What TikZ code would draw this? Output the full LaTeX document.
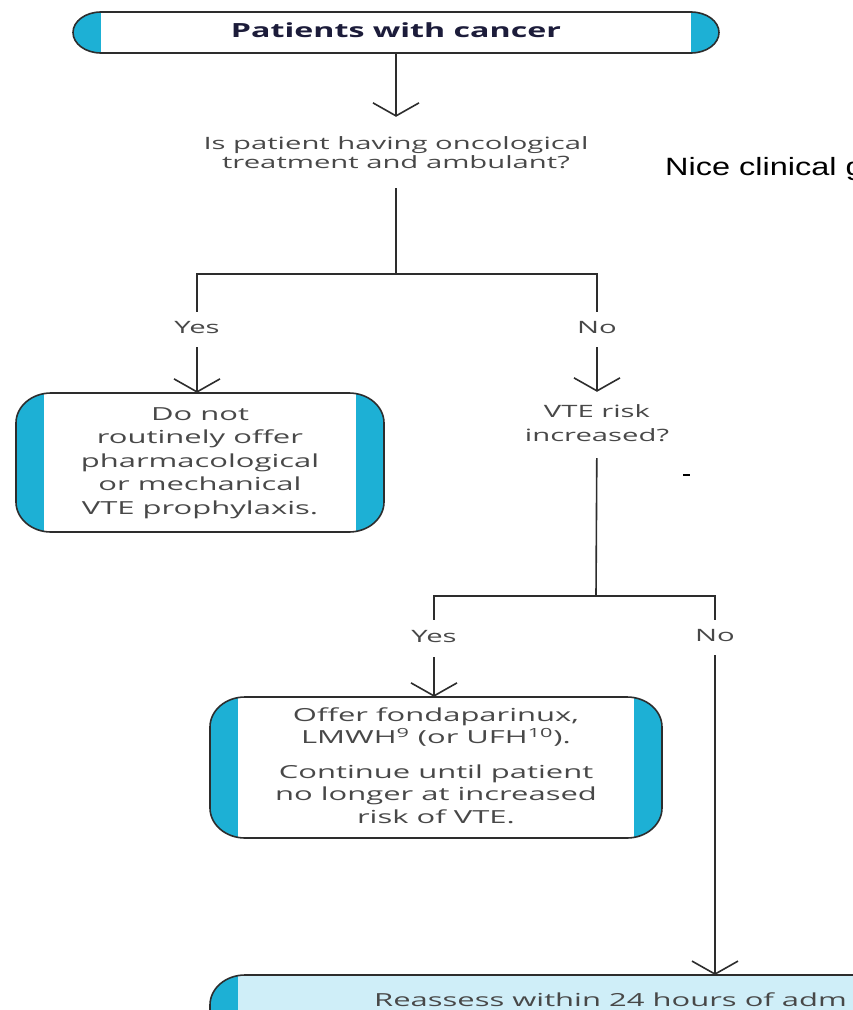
\documentclass[tikz,border=0pt]{standalone}
\usepackage{fontspec}
\setmainfont{Open Sans}
\newfontfamily\arialfont{Liberation Sans}
\usetikzlibrary{arrows.meta}
\definecolor{bandcyan}{RGB}{29,176,213}
\definecolor{lightfill}{RGB}{207,238,248}
\definecolor{linegray}{RGB}{45,45,45}
\definecolor{textgray}{RGB}{72,72,72}
\definecolor{titlenavy}{RGB}{28,28,58}
\newcommand\wide[2][1.72]{\scalebox{#1}[1]{\begin{tabular}{@{}c@{}}#2\end{tabular}}}
% rounded box outline with elliptic corners: x1, ytop, x2, ybot, rx, ry
\newcommand\capshapepath[6]{(#1+#5,#2) -- (#3-#5,#2)
  arc[start angle=90,end angle=0,x radius=#5,y radius=#6] -- (#3,#4+#6)
  arc[start angle=0,end angle=-90,x radius=#5,y radius=#6] -- (#1+#5,#4)
  arc[start angle=-90,end angle=-180,x radius=#5,y radius=#6] -- (#1,#2-#6)
  arc[start angle=180,end angle=90,x radius=#5,y radius=#6] -- cycle}
% box with cyan side bands: x1, ytop, x2, ybot, rx, ry, band, fill colour
\newcommand\bandbox[8]{%
  \begin{scope}
    \clip \capshapepath{#1}{#2}{#3}{#4}{#5}{#6};
    \fill[#8] (#1,#2) rectangle (#3,#4);
    \fill[bandcyan] (#1,#2) rectangle (#1+#7,#4);
    \fill[bandcyan] (#3-#7,#2) rectangle (#3,#4);
  \end{scope}
  \draw[outline] \capshapepath{#1}{#2}{#3}{#4}{#5}{#6};}
\tikzset{
  outline/.style={draw=linegray, line width=1.6pt},
  ln/.style={draw=linegray, line width=1.6pt},
  arr/.style={ln, -{Straight Barb[length=13pt,width=46pt,line width=1.6pt]}},
  qtext/.style={inner sep=0pt, text=textgray, font=\fontsize{17}{19}\selectfont},
  q2text/.style={qtext, font=\fontsize{17}{24}\selectfont},
  lbl/.style={inner sep=0pt, text=textgray, font=\fontsize{17}{19}\selectfont},
  boxtext/.style={inner sep=0pt, text=textgray},
}
\begin{document}
\begin{tikzpicture}[x=1pt,y=1pt]
\useasboundingbox (0,0) rectangle (853,-1010);
\fill[white] (0,0) rectangle (853,-1010);
\clip (0,0) rectangle (853,-1010);

% shapes
\bandbox{73}{-12}{719}{-53}{28}{20.5}{28}{white}
\bandbox{16}{-393}{384}{-532}{35}{30}{28}{white}
\bandbox{210}{-697}{662}{-838}{35}{30}{28}{white}
\bandbox{210}{-975}{1100}{-1080}{35}{30}{28}{lightfill}

% nodes
\node[inner sep=0pt, minimum width=646pt, minimum height=41pt, text=titlenavy,
      font=\fontsize{19.5}{23}\selectfont\bfseries] (title) at (396,-32.5)
      {\wide[1.65]{Patients with cancer}};
\node[qtext, minimum height=71pt] (q1) at (396,-152.5)
      {\raisebox{-3pt}[\height][\depth]{\wide{Is patient having oncological\\treatment and ambulant?}}};
\coordinate (b1) at (396,-274);
\node[lbl, minimum height=35pt] (yes1) at (197,-329.5) {\wide{Yes}};
\node[lbl, minimum height=35pt] (no1) at (597,-329.5) {\wide{No}};
\node[boxtext, minimum width=368pt, minimum height=139pt,
      font=\fontsize{18}{23.5}\selectfont] (box1) at (200,-462.5)
      {\wide{Do not\\routinely offer\\pharmacological\\or mechanical\\VTE prophylaxis.}};
\node[q2text, minimum height=66pt] (q2) at (597,-425)
      {\wide{VTE risk\\increased?}};
\coordinate (b2) at (596,-596);
\node[lbl, minimum height=37pt] (yes2) at (434,-638.5) {\wide{Yes}};
\node[lbl, minimum height=35pt] (no2) at (715,-637.5) {\wide{No}};
\node[boxtext, minimum width=452pt, minimum height=141pt,
      font=\fontsize{18}{22.5}\selectfont] (box3) at (436,-767.5)
      {\wide{Offer fondaparinux,\\LMWH\textsuperscript{9} (or UFH\textsuperscript{10}).\\[12pt]Continue until patient\\no longer at increased\\risk of VTE.}};
\coordinate (box4top) at (715,-975);
\node[boxtext, anchor=base west, font=\fontsize{18}{22}\selectfont] (reass) at (374,-1006)
      {\scalebox{1.72}[1]{Reassess within 24 hours of adm}};
\node[inner sep=0pt, anchor=base west, text=black,
      font=\arialfont\fontsize{25}{30}\selectfont] (nice) at (665,-175)
      {\scalebox{1.3}[1]{Nice clinical g}};

% connectors
\draw[arr] (title) -- (q1);
\draw[ln] (q1) -- (b1);
\draw[ln] (yes1) |- (b1) -| (no1);
\draw[arr] (yes1) -- (yes1 |- box1.north);
\draw[arr] (no1) -- (q2);
\draw[ln] (q2) -- (b2);
\draw[ln] (yes2) |- (b2) -| (no2);
\draw[arr] (yes2) -- (yes2 |- box3.north);
\draw[arr] (no2) -- (box4top);

% stray mark
\draw[line width=2pt, black] (683,-475) -- (690,-475);
\end{tikzpicture}
\end{document}
